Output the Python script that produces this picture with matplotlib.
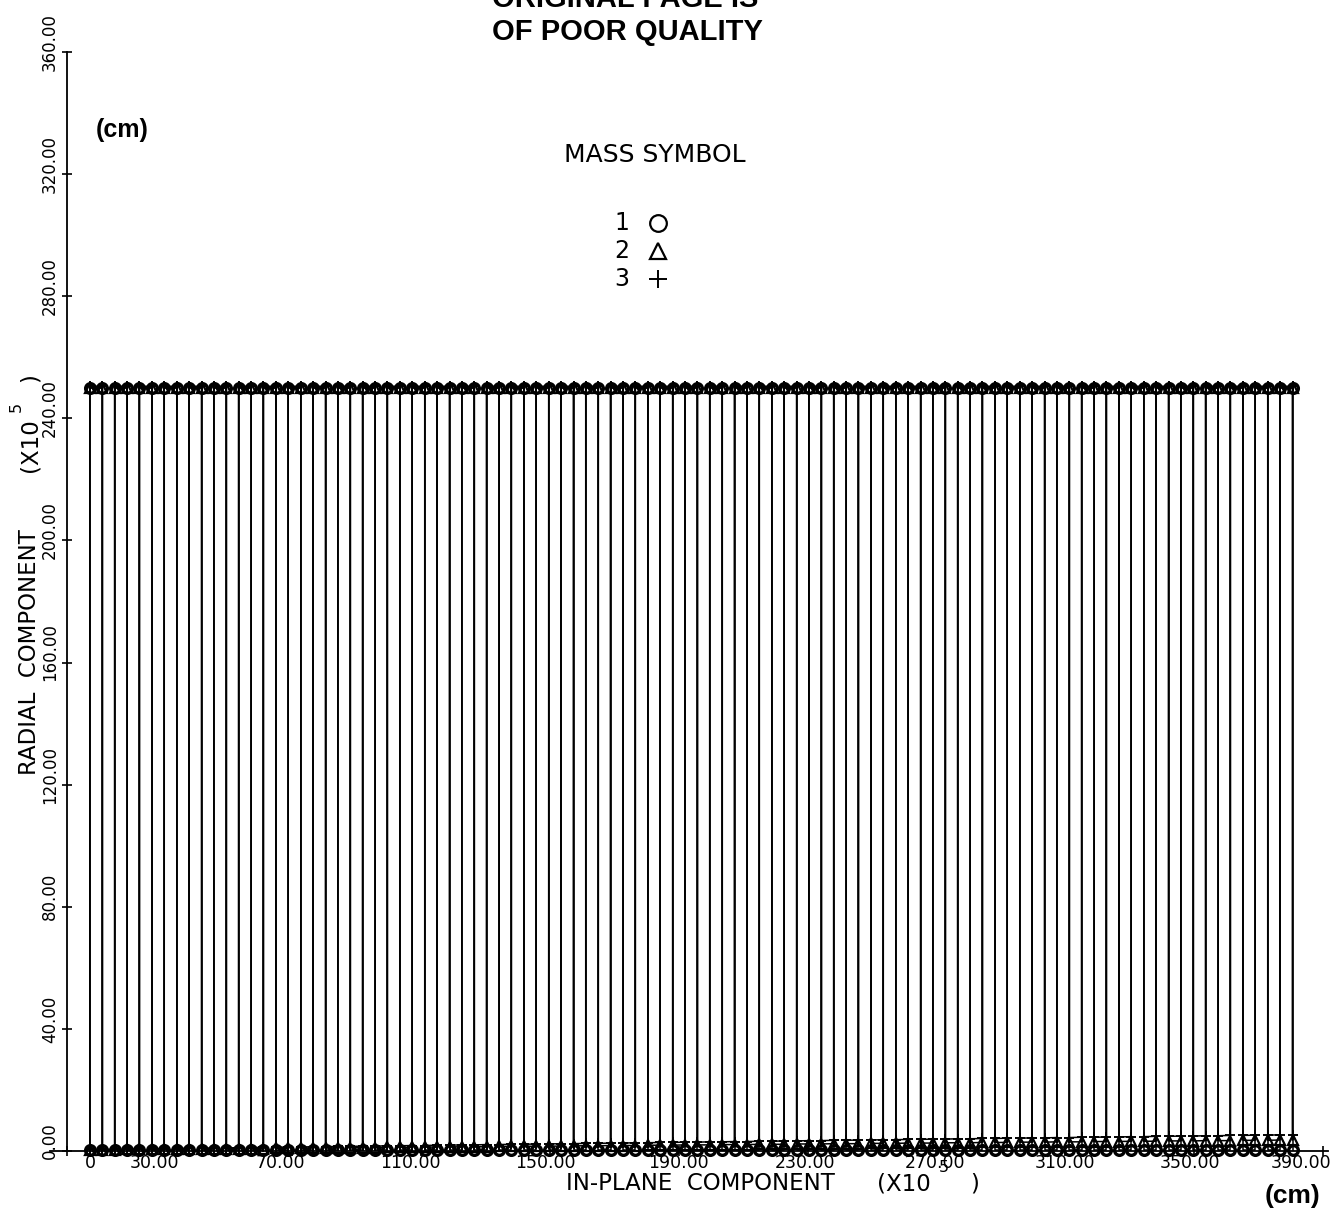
import matplotlib
matplotlib.use("Agg")
import matplotlib.pyplot as plt
from matplotlib import transforms
from matplotlib.lines import Line2D

# ---------------------------------------------------------------- data
# in-plane component of each sampled position (x10^5 cm)
in_plane = [
    7.1, 11.0, 14.8, 18.7, 22.5, 26.4, 30.2, 34.1, 37.9, 41.8,
    45.6, 49.5, 53.3, 57.2, 61.0, 64.9, 68.7, 72.6, 76.4, 80.3,
    84.1, 88.0, 91.8, 95.7, 99.5, 103.4, 107.2, 111.1, 114.9, 118.8,
    122.6, 126.5, 130.3, 134.2, 138.0, 141.9, 145.7, 149.6, 153.4, 157.3,
    161.1, 165.0, 168.8, 172.7, 176.5, 180.4, 184.2, 188.1, 191.9, 195.8,
    199.6, 203.5, 207.3, 211.2, 215.0, 218.9, 222.7, 226.6, 230.4, 234.3,
    238.1, 242.0, 245.8, 249.7, 253.5, 257.4, 261.2, 265.1, 268.9, 272.8,
    276.6, 280.5, 284.3, 288.2, 292.0, 295.9, 299.7, 303.6, 307.4, 311.3,
    315.1, 319.0, 322.8, 326.7, 330.5, 334.4, 338.2, 342.1, 345.9, 349.8,
    353.6, 357.5, 361.3, 365.2, 369.0, 372.9, 376.7, 380.6,
]

# radial component at the outer turning point for each mass (x10^5 cm)
radial_top_m1 = 250.0
radial_top_m2 = 250.0
radial_top_m3 = 250.5

# radial component at the inner turning point for each mass (x10^5 cm)
radial_low_m1 = [
    0.3, 0.3, 0.3, 0.3, 0.3, 0.3, 0.3, 0.3, 0.3, 0.3,
    0.3, 0.3, 0.3, 0.3, 0.3, 0.3, 0.3, 0.3, 0.3, 0.3,
    0.3, 0.3, 0.3, 0.3, 0.3, 0.3, 0.3, 0.3, 0.3, 0.3,
    0.3, 0.3, 0.3, 0.3, 0.3, 0.3, 0.3, 0.3, 0.3, 0.3,
    0.3, 0.3, 0.3, 0.3, 0.3, 0.3, 0.3, 0.3, 0.3, 0.3,
    0.3, 0.3, 0.3, 0.3, 0.3, 0.3, 0.3, 0.3, 0.3, 0.3,
    0.3, 0.3, 0.3, 0.3, 0.3, 0.3, 0.3, 0.3, 0.3, 0.3,
    0.3, 0.3, 0.3, 0.3, 0.3, 0.3, 0.3, 0.3, 0.3, 0.3,
    0.3, 0.3, 0.3, 0.3, 0.3, 0.3, 0.3, 0.3, 0.3, 0.3,
    0.3, 0.3, 0.3, 0.3, 0.3, 0.3, 0.3, 0.3,
]
radial_low_m2 = [
    0.4, 0.4, 0.4, 0.5, 0.5, 0.5, 0.6, 0.6, 0.6, 0.7,
    0.7, 0.7, 0.8, 0.8, 0.8, 0.9, 0.9, 0.9, 1.0, 1.0,
    1.0, 1.1, 1.1, 1.1, 1.2, 1.2, 1.2, 1.3, 1.3, 1.3,
    1.4, 1.4, 1.4, 1.5, 1.5, 1.5, 1.6, 1.6, 1.6, 1.7,
    1.7, 1.7, 1.8, 1.8, 1.8, 1.9, 1.9, 1.9, 2.0, 2.0,
    2.0, 2.1, 2.1, 2.1, 2.2, 2.2, 2.2, 2.3, 2.3, 2.3,
    2.4, 2.4, 2.4, 2.5, 2.5, 2.5, 2.6, 2.6, 2.6, 2.7,
    2.7, 2.7, 2.8, 2.8, 2.8, 2.9, 2.9, 2.9, 3.0, 3.0,
    3.0, 3.1, 3.1, 3.1, 3.2, 3.2, 3.2, 3.3, 3.3, 3.3,
    3.4, 3.4, 3.4, 3.5, 3.5, 3.5, 3.6, 3.6,
]
radial_low_m3 = [
    0.5, 0.5, 0.6, 0.6, 0.7, 0.7, 0.8, 0.8, 0.9, 0.9,
    1.0, 1.0, 1.1, 1.1, 1.2, 1.2, 1.3, 1.3, 1.4, 1.4,
    1.5, 1.5, 1.6, 1.6, 1.7, 1.7, 1.8, 1.8, 1.9, 1.9,
    2.0, 2.0, 2.1, 2.1, 2.2, 2.2, 2.3, 2.3, 2.4, 2.4,
    2.5, 2.5, 2.6, 2.6, 2.7, 2.7, 2.8, 2.8, 2.9, 2.9,
    3.0, 3.0, 3.1, 3.1, 3.2, 3.2, 3.3, 3.3, 3.4, 3.4,
    3.5, 3.5, 3.6, 3.6, 3.7, 3.7, 3.8, 3.8, 3.9, 3.9,
    4.0, 4.0, 4.1, 4.1, 4.2, 4.2, 4.3, 4.3, 4.4, 4.4,
    4.5, 4.5, 4.6, 4.6, 4.7, 4.7, 4.8, 4.8, 4.9, 4.9,
    5.0, 5.0, 5.1, 5.1, 5.2, 5.2, 5.3, 5.3,
]

x_tick_values = [0, 30, 70, 110, 150, 190, 230, 270, 310, 350, 390]
x_tick_labels = ["0", "30.00", "70.00", "110.00", "150.00", "190.00",
                 "230.00", "270.00", "310.00", "350.00", "390.00"]
y_tick_values = [0, 40, 80, 120, 160, 200, 240, 280, 320, 360]
y_tick_labels = ["0.00", "40.00", "80.00", "120.00", "160.00", "200.00",
                 "240.00", "280.00", "320.00", "360.00"]

mass_ids = ["1", "2", "3"]
mass_markers = ["o", "^", "+"]

# ---------------------------------------------------------------- layout
FIG_W, FIG_H = 1342, 1213
fig = plt.figure(figsize=(FIG_W / 100, FIG_H / 100), dpi=100)
fig.patch.set_facecolor("white")


def fx(px):
    return px / FIG_W


def fy(py):
    return 1 - py / FIG_H


PX_PER_UNIT_X = 3.22
ORIGIN_PX = 67
left_px, right_px, top_px, bottom_px = 50, 1328, 52, 1151
ax = fig.add_axes([fx(left_px), fy(bottom_px),
                   fx(right_px) - fx(left_px), fy(top_px) - fy(bottom_px)])
ax.set_xlim((left_px - ORIGIN_PX) / PX_PER_UNIT_X,
            (right_px - ORIGIN_PX) / PX_PER_UNIT_X)
ax.set_ylim(0, 360)
ax.set_facecolor("white")

for side in ("top", "right"):
    ax.spines[side].set_visible(False)
ax.spines["left"].set_position(("data", 0))
ax.spines["left"].set_linewidth(1.3)
ax.spines["bottom"].set_linewidth(1.3)

ax.set_xticks(x_tick_values)
ax.set_yticks(y_tick_values)
ax.tick_params(axis="both", direction="inout", length=7, width=1.2,
               labelleft=False, labelbottom=False, color="black")

PLOT_FONT = "DejaVu Sans"

# tick labels, drawn in the plotter's offset style
ylab_tr = transforms.offset_copy(ax.transData, fig=fig, x=-17, y=10, units="dots")
for v, s in zip(y_tick_values, y_tick_labels):
    ax.text(0, v, s, transform=ylab_tr, rotation=90, ha="center", va="center",
            fontsize=12, family=PLOT_FONT, clip_on=False)

# horizontal nudges (pixels) of the x tick numbers relative to their ticks
x_label_nudge = [23, -9, -12, -11, -5, 0, -3, -1, 0, -4, -22]
for v, s, dx in zip(x_tick_values, x_tick_labels, x_label_nudge):
    tr = transforms.offset_copy(ax.transData, fig=fig, x=dx, y=-12, units="dots")
    ax.text(v, 0, s, transform=tr, ha="center", va="center",
            fontsize=12.5, family=PLOT_FONT, clip_on=False)

# ---------------------------------------------------------------- traces
def square_path(xs, low, top):
    """Up-and-down trace: vertical run at each x, joined alternately at top and bottom."""
    px, py = [], []
    for i, x in enumerate(xs):
        lo = low[i]
        if i % 2 == 0:
            px += [x, x]
            py += [lo, top]
        else:
            px += [x, x]
            py += [top, lo]
    return px, py


traces = [
    (radial_low_m1, radial_top_m1, dict(marker="o", ms=7.0, mfc="none", mew=2.4)),
    (radial_low_m2, radial_top_m2, dict(marker="^", ms=6.5, mfc="none", mew=1.6)),
    (radial_low_m3, radial_top_m3, dict(marker="+", ms=7.5, mew=1.4)),
]
for low, top, mstyle in traces:
    px, py = square_path(in_plane, low, top)
    ax.plot(px, py, color="black", lw=1.1, mec="black", clip_on=False,
            zorder=3, **mstyle)

# ---------------------------------------------------------------- titles and labels
fig.text(fx(492), fy(7), "ORIGINAL PAGE IS", family="Liberation Sans",
         weight="bold", fontsize=21, ha="left", va="baseline")
fig.text(fx(492), fy(40), "OF POOR QUALITY", family="Liberation Sans",
         weight="bold", fontsize=21, ha="left", va="baseline")

fig.text(fx(122), fy(130), "(cm)", family="Liberation Sans", weight="bold",
         fontsize=18, ha="center", va="center")
fig.text(fx(1292), fy(1196), "(cm)", family="Liberation Sans", weight="bold",
         fontsize=19, ha="center", va="center")

# x-axis title
fig.text(fx(700), fy(1184), "IN-PLANE  COMPONENT", family=PLOT_FONT,
         fontsize=16.5, ha="center", va="center")
fig.text(fx(877), fy(1184), "(X10", family=PLOT_FONT, fontsize=16.5,
         ha="left", va="center")
fig.text(fx(944), fy(1168), "5", family=PLOT_FONT, fontsize=11.5,
         ha="center", va="center")
fig.text(fx(975), fy(1184), ")", family=PLOT_FONT, fontsize=16.5,
         ha="center", va="center")

# y-axis title
fig.text(fx(30), fy(652), "RADIAL  COMPONENT", family=PLOT_FONT, fontsize=16.5,
         rotation=90, ha="center", va="center")
fig.text(fx(30), fy(445), "(X10", family=PLOT_FONT, fontsize=16.5,
         rotation=90, ha="center", va="center")
fig.text(fx(16), fy(407), "5", family=PLOT_FONT, fontsize=11.5,
         rotation=90, ha="center", va="center")
fig.text(fx(30), fy(378), ")", family=PLOT_FONT, fontsize=16.5,
         rotation=90, ha="center", va="center")

# symbol key
fig.text(fx(655), fy(155), "MASS SYMBOL", family=PLOT_FONT, fontsize=18,
         ha="center", va="center")
key_rows_px = [223, 251, 279]
key_styles = [dict(ms=12, mfc="none", mew=1.6),
              dict(ms=11, mfc="none", mew=1.6),
              dict(ms=13, mew=1.4)]
for mid, mk, row, st in zip(mass_ids, mass_markers, key_rows_px, key_styles):
    fig.text(fx(622), fy(row), mid, family=PLOT_FONT, fontsize=17,
             ha="center", va="center")
    fig.add_artist(Line2D([fx(658)], [fy(row)], transform=fig.transFigure,
                          marker=mk, color="black", mec="black", ls="none", **st))

fig.savefig("out.png", dpi=100, facecolor="white")
